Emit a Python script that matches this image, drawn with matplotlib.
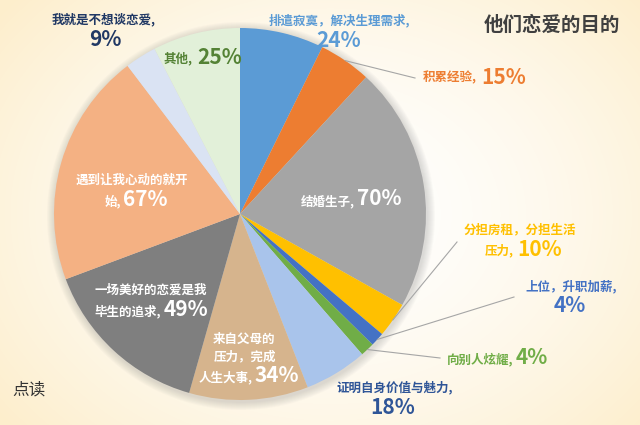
import matplotlib
matplotlib.use('Agg')
import matplotlib.pyplot as plt
import numpy as np

plt.rcParams['font.family'] = ['Noto Sans CJK SC', 'DejaVu Sans']

# data
categories = ['排遣寂寞，解决生理需求', '积累经验', '结婚生子', '分担房租，分担生活压力',
              '上位，升职加薪', '向别人炫耀', '证明自身价值与魅力', '来自父母的压力，完成人生大事',
              '一场美好的恋爱是我毕生的追求', '遇到让我心动的就开始', '我就是不想谈恋爱', '其他']
values = [24, 15, 70, 10, 4, 4, 18, 34, 49, 67, 9, 25]
slice_colors = ['#5B9BD5', '#ED7D31', '#A5A5A5', '#FFC000', '#4472C4', '#70AD47',
                '#A9C4EB', '#D6B48D', '#7F7F7F', '#F4B183', '#DAE3F3', '#E2F0D9']
label_colors = ['#5B9BD5', '#ED7D31', 'white', '#FFC000', '#4472C4', '#70AD47',
                '#2F5597', 'white', 'white', 'white', '#203864', '#548235']
title = '他们恋爱的目的'

W, H = 640, 425
fig = plt.figure(figsize=(6.4, 4.25), dpi=100)
ax = fig.add_axes([0, 0, 1, 1])

# background: cream radial gradient, white in the middle
yy, xx = np.mgrid[0:H, 0:W]
d = np.sqrt(((xx - 330) / 420.0) ** 2 + ((yy - 210) / 330.0) ** 2)
t = np.clip(d, 0, 1) ** 1.6
edge = np.array([253, 238, 204]) / 255.0
bg = (1 - t[..., None]) * np.ones(3) + t[..., None] * edge
ax.imshow(bg, extent=(0, W, 0, H), origin='lower', aspect='auto', zorder=0)

cx, cy, R = 240, H - 214, 186

# soft shadow
for k in range(8):
    ax.add_patch(plt.Circle((cx + 1, cy - 2), R + 1 + k, color='#808080',
                            alpha=0.035, lw=0, zorder=1))

wedges, _ = ax.pie(values, colors=slice_colors, startangle=90, counterclock=False,
                   center=(cx, cy), radius=R, wedgeprops=dict(linewidth=0, zorder=2))
for w in wedges:
    w.set_zorder(2)

ax.set_xlim(0, W)
ax.set_ylim(0, H)
ax.set_aspect('equal')
ax.axis('off')

name_kw = dict(fontsize=9, fontweight='bold', zorder=5)
pct_kw = dict(fontsize=15, fontweight='bold', zorder=5)


def txt(x, y, s, color, ha='center', big=False):
    kw = pct_kw if big else name_kw
    ax.text(x, H - y, s, color=color, ha=ha, va='center', **kw)


def pct(i):
    return f'{values[i]}%'


def leader(i, x2, y2):
    w = wedges[i]
    a = np.deg2rad((w.theta1 + w.theta2) / 2)
    x1, y1 = cx + R * np.cos(a), cy + R * np.sin(a)
    ax.plot([x1, x2], [y1, H - y2], color='#A6A6A6', lw=0.8, zorder=4)


c = label_colors
# 0
txt(339, 20, '排遣寂寞，解决生理需求,', c[0])
txt(339, 40, pct(0), c[0], big=True)
# 1
leader(1, 415, 78)
txt(477, 78, '积累经验,', c[1], ha='right')
txt(481, 77, pct(1), c[1], ha='left', big=True)
# 2
txt(355, 201, '结婚生子,', c[2], ha='right')
txt(357, 198, pct(2), c[2], ha='left', big=True)
# 3
leader(3, 457, 242)
txt(520, 230, '分担房租，分担生活', c[3])
txt(514, 251, '压力,', c[3], ha='right')
txt(517, 249, pct(3), c[3], ha='left', big=True)
# 4
leader(4, 514, 297)
txt(571, 287, '上位，升职加薪,', c[4])
txt(570, 305, pct(4), c[4], big=True)
# 5
leader(5, 440, 358)
txt(513, 359, '向别人炫耀,', c[5], ha='right')
txt(516, 358, pct(5), c[5], ha='left', big=True)
# 6
txt(395, 387, '证明自身价值与魅力,', c[6])
txt(393, 407, pct(6), c[6], big=True)
# 7
txt(244, 339, '来自父母的', c[7])
txt(245, 357, '压力，完成', c[7])
txt(253, 378, '人生大事,', c[7], ha='right')
txt(255, 376, pct(7), c[7], ha='left', big=True)
# 8
txt(151, 290, '一场美好的恋爱是我', c[8])
txt(161, 311, '毕生的追求,', c[8], ha='right')
txt(164, 309, pct(8), c[8], ha='left', big=True)
# 9
txt(132, 180, '遇到让我心动的就开', c[9])
txt(121, 201, '始,', c[9], ha='right')
txt(123, 199, pct(9), c[9], ha='left', big=True)
# 10
txt(104, 19, '我就是不想谈恋爱,', c[10])
txt(105, 39, pct(10), c[10], big=True)
# 11
txt(193, 59, '其他,', c[11], ha='right')
txt(197, 57, pct(11), c[11], ha='left', big=True)

ax.text(552, H - 25, title, fontsize=14, fontweight='bold', color='#404040',
        ha='center', va='center', zorder=5)

# watermark
ax.text(12, H - 390, '点读', fontsize=12, fontweight='light', color='#333333',
        ha='left', va='center', zorder=5)

fig.savefig('out.png', dpi=100)
